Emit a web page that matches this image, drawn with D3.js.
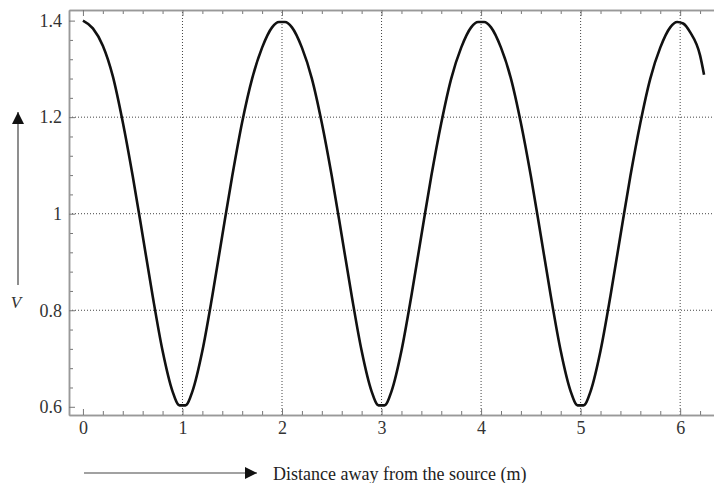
<!DOCTYPE html>
<html>
<head>
<meta charset="utf-8">
<script src="https://cdn.jsdelivr.net/npm/d3@7"></script>
<style>
body { margin: 0; background: #fff; }
</style>
</head>
<body>
<div class="chart"></div>
<script>
let W = 714;
let H = 483;
const SERIF = '"Liberation Serif", "Times New Roman", serif';

// distance (m) and V
const distance = [0, 0.1, 0.2, 0.3, 0.4, 0.5, 0.6, 0.7, 0.8, 0.9, 0.97, 1.03,
	1.1, 1.2, 1.3, 1.4, 1.5, 1.6, 1.7, 1.8, 1.9, 1.97, 2.03,
	2.1, 2.2, 2.3, 2.4, 2.5, 2.6, 2.7, 2.8, 2.9, 2.97, 3.03,
	3.1, 3.2, 3.3, 3.4, 3.5, 3.6, 3.7, 3.8, 3.9, 3.97, 4.03,
	4.1, 4.2, 4.3, 4.4, 4.5, 4.6, 4.7, 4.8, 4.9, 4.97, 5.03,
	5.1, 5.2, 5.3, 5.4, 5.5, 5.6, 5.7, 5.8, 5.9, 5.97, 6.03,
	6.1, 6.2, 6.24];
const voltage = [1.400, 1.384, 1.348, 1.285, 1.190, 1.078, 0.955, 0.830, 0.716, 0.632, 0.603, 0.603,
	0.632, 0.716, 0.830, 0.955, 1.078, 1.190, 1.280, 1.344, 1.386, 1.397, 1.397,
	1.386, 1.344, 1.280, 1.188, 1.078, 0.955, 0.830, 0.716, 0.632, 0.603, 0.603,
	0.632, 0.716, 0.830, 0.955, 1.078, 1.188, 1.280, 1.344, 1.386, 1.397, 1.397,
	1.386, 1.344, 1.280, 1.188, 1.078, 0.955, 0.830, 0.716, 0.632, 0.603, 0.603,
	0.632, 0.716, 0.830, 0.955, 1.078, 1.188, 1.280, 1.344, 1.386, 1.397, 1.394,
	1.376, 1.328, 1.288];

const xTicks = [0, 1, 2, 3, 4, 5, 6];
const yTicks = [0.6, 0.8, 1, 1.2, 1.4];
const xGrid = [1, 2, 3, 4, 5, 6];
const yGrid = [0.8, 1, 1.2];

const x = d3.scaleLinear().domain([-0.14, 6.34]).range([69, 714]);
const y = d3.scaleLinear().domain([0.583, 1.422]).range([415, 10]);

const xMinor = d3.range(0, 6.4, 0.2).filter(v => Math.abs(v - Math.round(v)) > 0.01);
const yMinor = d3.range(0.6, 1.42, 0.04).filter(v => Math.abs(v * 5 - Math.round(v * 5)) > 0.01);

let svg = d3.select('.chart')
	.append('svg')
	.attr('width', W)
	.attr('height', H);

// dotted grid
svg.selectAll('.vgrid')
	.data(xGrid)
	.enter()
	.append('line')
	.attr('x1', d => x(d)).attr('x2', d => x(d))
	.attr('y1', y.range()[0]).attr('y2', y.range()[1])
	.attr('stroke', '#444')
	.attr('stroke-width', 1)
	.attr('stroke-dasharray', '1,2');

svg.selectAll('.hgrid')
	.data(yGrid)
	.enter()
	.append('line')
	.attr('x1', x.range()[0]).attr('x2', x.range()[1])
	.attr('y1', d => y(d)).attr('y2', d => y(d))
	.attr('stroke', '#444')
	.attr('stroke-width', 1)
	.attr('stroke-dasharray', '1,2');

function styleAxis(g){
	g.select('.domain').attr('stroke', '#999').attr('stroke-width', 1.5);
	g.selectAll('.tick line').attr('stroke', '#777');
	g.selectAll('text')
		.style('font-family', SERIF)
		.style('font-size', '18px')
		.attr('fill', '#333');
}

// bottom
svg.append('g').attr('transform', 'translate(0,415)')
	.call(d3.axisBottom(x).tickValues(xMinor).tickSize(-4).tickFormat('').tickSizeOuter(0))
	.call(styleAxis);
svg.append('g').attr('transform', 'translate(0,415)')
	.call(d3.axisBottom(x).tickValues(xTicks).tickSize(-6).tickPadding(6).tickFormat(d3.format('d')).tickSizeOuter(0))
	.call(styleAxis);

// top
svg.append('g').attr('transform', 'translate(0,10)')
	.call(d3.axisTop(x).tickValues(xMinor).tickSize(-4).tickFormat('').tickSizeOuter(0))
	.call(styleAxis);
svg.append('g').attr('transform', 'translate(0,10)')
	.call(d3.axisTop(x).tickValues(xTicks).tickSize(-6).tickFormat('').tickSizeOuter(0))
	.call(styleAxis);

// left
svg.append('g').attr('transform', 'translate(69,0)')
	.call(d3.axisLeft(y).tickValues(yMinor).tickSize(-4).tickFormat('').tickSizeOuter(0))
	.call(styleAxis);
svg.append('g').attr('transform', 'translate(69,0)')
	.call(d3.axisLeft(y).tickValues(yTicks).tickSize(-6).tickPadding(7).tickFormat(d => String(d)).tickSizeOuter(0))
	.call(styleAxis);

// curve
const lineFun = d3.line()
	.x((d, i) => x(distance[i]))
	.y(d => y(d))
	.curve(d3.curveMonotoneX);

svg.append('path')
	.attr('d', lineFun(voltage))
	.attr('fill', 'none')
	.attr('stroke', '#111')
	.attr('stroke-width', 2.6)
	.attr('stroke-linejoin', 'round');

// arrows
svg.append('defs').append('marker')
	.attr('id', 'head')
	.attr('viewBox', '0 0 10 10')
	.attr('refX', 10).attr('refY', 5)
	.attr('markerWidth', 13).attr('markerHeight', 12)
	.attr('markerUnits', 'userSpaceOnUse')
	.attr('orient', 'auto')
	.append('path')
	.attr('d', 'M0,0 L10,5 L0,10 Z')
	.attr('fill', '#111');

svg.append('line')
	.attr('x1', 18).attr('y1', 285)
	.attr('x2', 18).attr('y2', 112)
	.attr('stroke', '#444').attr('stroke-width', 1.2)
	.attr('marker-end', 'url(#head)');

svg.append('line')
	.attr('x1', 84).attr('y1', 473)
	.attr('x2', 257).attr('y2', 473)
	.attr('stroke', '#444').attr('stroke-width', 1.2)
	.attr('marker-end', 'url(#head)');

svg.append('text')
	.text('V')
	.attr('x', 16).attr('y', 308)
	.attr('text-anchor', 'middle')
	.style('font-family', SERIF)
	.style('font-style', 'italic')
	.style('font-size', '17px')
	.attr('fill', '#333');

svg.append('text')
	.text('Distance away from the source (m)')
	.attr('x', 273).attr('y', 480)
	.style('font-family', SERIF)
	.style('font-size', '18px')
	.attr('fill', '#222');
</script>
</body>
</html>
